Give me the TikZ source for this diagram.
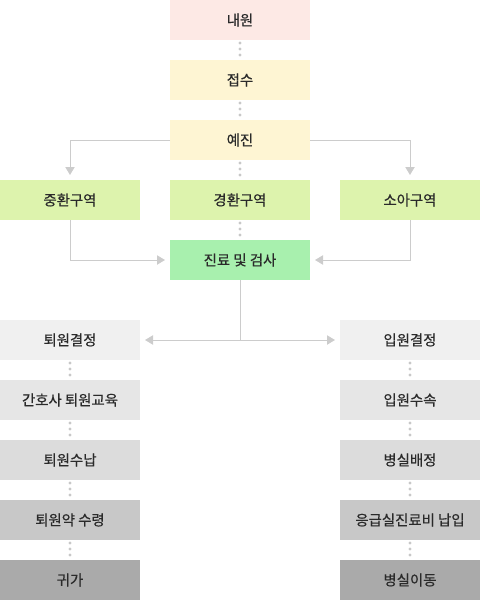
\documentclass[tikz,border=0pt]{standalone}
\usepackage{fontspec}
\setmainfont{Noto Sans CJK KR}[FakeBold=0.5]
\usetikzlibrary{arrows.meta}
\definecolor{cpink}{HTML}{FDE9E5}
\definecolor{cyel}{HTML}{FEF5D3}
\definecolor{clgreen}{HTML}{DDF3AD}
\definecolor{cgreen}{HTML}{A8F0AE}
\definecolor{cg1}{HTML}{F0F0F0}
\definecolor{cg2}{HTML}{E6E6E6}
\definecolor{cg3}{HTML}{DCDCDC}
\definecolor{cg4}{HTML}{C8C8C8}
\definecolor{cg5}{HTML}{AAAAAA}
\definecolor{cline}{HTML}{CCCCCC}
\definecolor{cdot}{HTML}{C8C8C8}
\definecolor{ctext}{HTML}{2A2A2A}
\tikzset{
  box/.style={minimum width=105pt, minimum height=30pt, inner sep=0pt, outer sep=0pt,
    text=ctext, font=\fontsize{10.8pt}{12pt}\selectfont},
  dotline/.style={draw=cdot, line width=2.6pt, line cap=round,
    dash pattern=on 0pt off 4.5pt, dash phase=2.25pt},
  arr/.style={draw=cline, line width=0.75pt, -{Triangle[length=6pt,width=7pt]}, shorten >=3.75pt},
}
\begin{document}
\begin{tikzpicture}[x=0.75pt,y=-0.75pt]
\useasboundingbox (0,0) rectangle (480,600);
% main column
\node[box, fill=cpink] (naewon) at (240,20) {내원};
\node[box, fill=cyel] (jeopsu) at (240,80) {접수};
\node[box, fill=cyel] (yejin) at (240,140) {예진};
\node[box, fill=clgreen] (jung) at (70,200) {중환구역};
\node[box, fill=clgreen] (gyeong) at (240,200) {경환구역};
\node[box, fill=clgreen] (soa) at (410,200) {소아구역};
\node[box, fill=cgreen] (jinryo) at (240,260) {진료 및 검사};
% left column
\node[box, fill=cg1] (l1) at (70,340) {퇴원결정};
\node[box, fill=cg2] (l2) at (70,400) {간호사 퇴원교육};
\node[box, fill=cg3] (l3) at (70,460) {퇴원수납};
\node[box, fill=cg4] (l4) at (70,520) {퇴원약 수령};
\node[box, fill=cg5] (l5) at (70,580) {귀가};
% right column
\node[box, fill=cg1] (r1) at (410,340) {입원결정};
\node[box, fill=cg2] (r2) at (410,400) {입원수속};
\node[box, fill=cg3] (r3) at (410,460) {병실배정};
\node[box, fill=cg4] (r4) at (410,520) {응급실진료비 납입};
\node[box, fill=cg5] (r5) at (410,580) {병실이동};
% dotted connectors
\draw[dotline] (naewon.south) -- (jeopsu.north);
\draw[dotline] (jeopsu.south) -- (yejin.north);
\draw[dotline] (yejin.south) -- (gyeong.north);
\draw[dotline] (gyeong.south) -- (jinryo.north);
\draw[dotline] (l1.south) -- (l2.north);
\draw[dotline] (l2.south) -- (l3.north);
\draw[dotline] (l3.south) -- (l4.north);
\draw[dotline] (l4.south) -- (l5.north);
\draw[dotline] (r1.south) -- (r2.north);
\draw[dotline] (r2.south) -- (r3.north);
\draw[dotline] (r3.south) -- (r4.north);
\draw[dotline] (r4.south) -- (r5.north);
% arrows
\draw[arr] (yejin.west) -| (jung.north);
\draw[arr] (yejin.east) -| (soa.north);
\draw[arr] (jung.south) |- (jinryo.west);
\draw[arr] (soa.south) |- (jinryo.east);
\draw[arr] (jinryo.south) |- (l1.east);
\draw[arr] (jinryo.south) |- (r1.west);
\end{tikzpicture}
\end{document}
